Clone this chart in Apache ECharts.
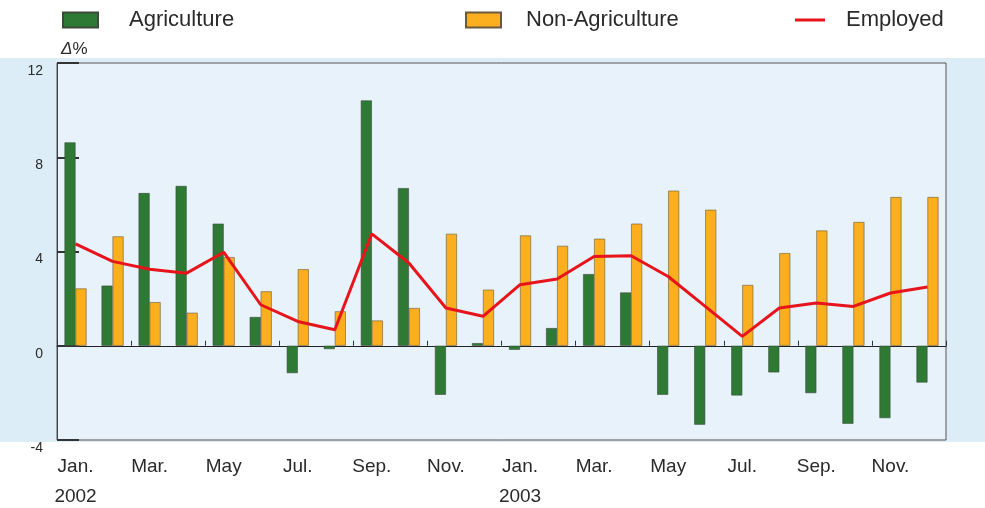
<!DOCTYPE html>
<html><head><meta charset="utf-8">
<script src="https://cdn.jsdelivr.net/npm/echarts@6/dist/echarts.min.js"></script>
<style>html,body{margin:0;padding:0;background:#fff}#c{width:985px;height:508px}</style>
</head><body><div id="c"></div>
<script>
const months = ['Jan.','Feb.','Mar.','Apr.','May','Jun.','Jul.','Aug.','Sep.','Oct.','Nov.','Dec.'];
const years = ['2002','2003'];
const agriculture = [8.63,2.55,6.48,6.78,5.18,1.22,-1.16,-0.14,10.41,6.69,-2.08,0.11,
                     -0.17,0.75,3.04,2.26,-2.08,-3.35,-2.11,-1.13,-2.01,-3.31,-3.07,-1.56];
const nonAgriculture = [2.43,4.64,1.85,1.40,3.76,2.31,3.25,1.46,1.07,1.60,4.75,2.38,
                        4.68,4.24,4.54,5.18,6.58,5.77,2.58,3.93,4.89,5.25,6.31,6.31];
const employed = [4.32,3.58,3.25,3.08,3.97,1.74,1.03,0.68,4.75,3.51,1.60,1.25,
                  2.59,2.83,3.79,3.82,2.94,1.67,0.40,1.60,1.81,1.67,2.24,2.49];
const yMin = -4, yMax = 12, yStep = 4;

const categories = [];
years.forEach(y => months.forEach(m => categories.push(m + '|' + y)));

const FONT = "'Liberation Sans', Arial, sans-serif";
const TXT = '#2a2a2a';
const chart = echarts.init(document.getElementById('c'));
chart.setOption({
  animation: false,
  textStyle: {fontFamily: FONT},
  graphic: [{
    type: 'rect', z: -100, silent: true,
    shape: {x: 0, y: 58, width: 985, height: 384},
    style: {fill: '#dcedf8'}
  }],
  legend: [
    {data: ['Agriculture'], left: 57, top: 4, icon: 'rect', itemWidth: 35, itemHeight: 15,
     textStyle: {fontSize: 22, color: TXT, padding: [0,0,0,26], fontFamily: FONT}},
    {data: ['Non-Agriculture'], left: 460, top: 4, icon: 'rect', itemWidth: 35, itemHeight: 15,
     textStyle: {fontSize: 22, color: TXT, padding: [0,0,0,20], fontFamily: FONT}},
    {data: [{name: 'Employed', icon: 'rect'}], left: 790, top: 4, itemWidth: 30, itemHeight: 3,
     textStyle: {fontSize: 22, color: TXT, padding: [0,0,0,16], fontFamily: FONT}}
  ],
  grid: {left: 57, right: 39, top: 63, bottom: 68, show: true, containLabel: false,
         outerBoundsMode: 'none',
         backgroundColor: '#e7f2fb', borderColor: '#555', borderWidth: 1},
  xAxis: [
    {type: 'category', data: categories, boundaryGap: true,
     axisLine: {onZero: true, lineStyle: {color: '#222', width: 1}},
     axisTick: {show: true, inside: true, length: 5, lineStyle: {color: '#333'}},
     axisLabel: {show: false}, splitLine: {show: false}},
    {type: 'category', data: categories, position: 'bottom', boundaryGap: true,
     axisLine: {show: false, onZero: false}, axisTick: {show: false},
     axisLabel: {interval: 1, margin: 12, fontSize: 19, color: TXT, lineHeight: 30,
       formatter: function (v) {
         const p = v.split('|');
         return p[0] === months[0] ? p[0] + '\n' + p[1] : p[0];
       }}}
  ],
  yAxis: {type: 'value', min: yMin, max: yMax, interval: yStep,
    name: '{i|Δ}%', nameLocation: 'end', nameGap: 5,
    nameTextStyle: {align: 'left', fontSize: 17, color: TXT, padding: [0,0,0,4],
      rich: {i: {fontStyle: 'italic', fontSize: 17, color: TXT}}},
    axisLine: {show: true, lineStyle: {color: '#444'}},
    axisTick: {show: true, inside: true, length: 22, lineStyle: {color: '#333', width: 2}},
    axisLabel: {fontSize: 14, color: TXT, margin: 14, verticalAlign: 'top', lineHeight: 16},
    splitLine: {show: false}},
  series: [
    {name: 'Agriculture', type: 'bar', data: agriculture, barWidth: 11, barGap: '0%',
     itemStyle: {color: '#2e7a34', borderColor: '#3a4a3a', borderWidth: 0.6}},
    {name: 'Non-Agriculture', type: 'bar', data: nonAgriculture, barWidth: 11, barGap: '0%',
     itemStyle: {color: '#fbae1e', borderColor: '#6a5a3a', borderWidth: 0.6}},
    {name: 'Employed', type: 'line', data: employed, showSymbol: false, symbol: 'none',
     lineStyle: {color: '#e8141b', width: 3}, itemStyle: {color: '#e8141b'}, z: 5}
  ]
});
</script></body></html>
